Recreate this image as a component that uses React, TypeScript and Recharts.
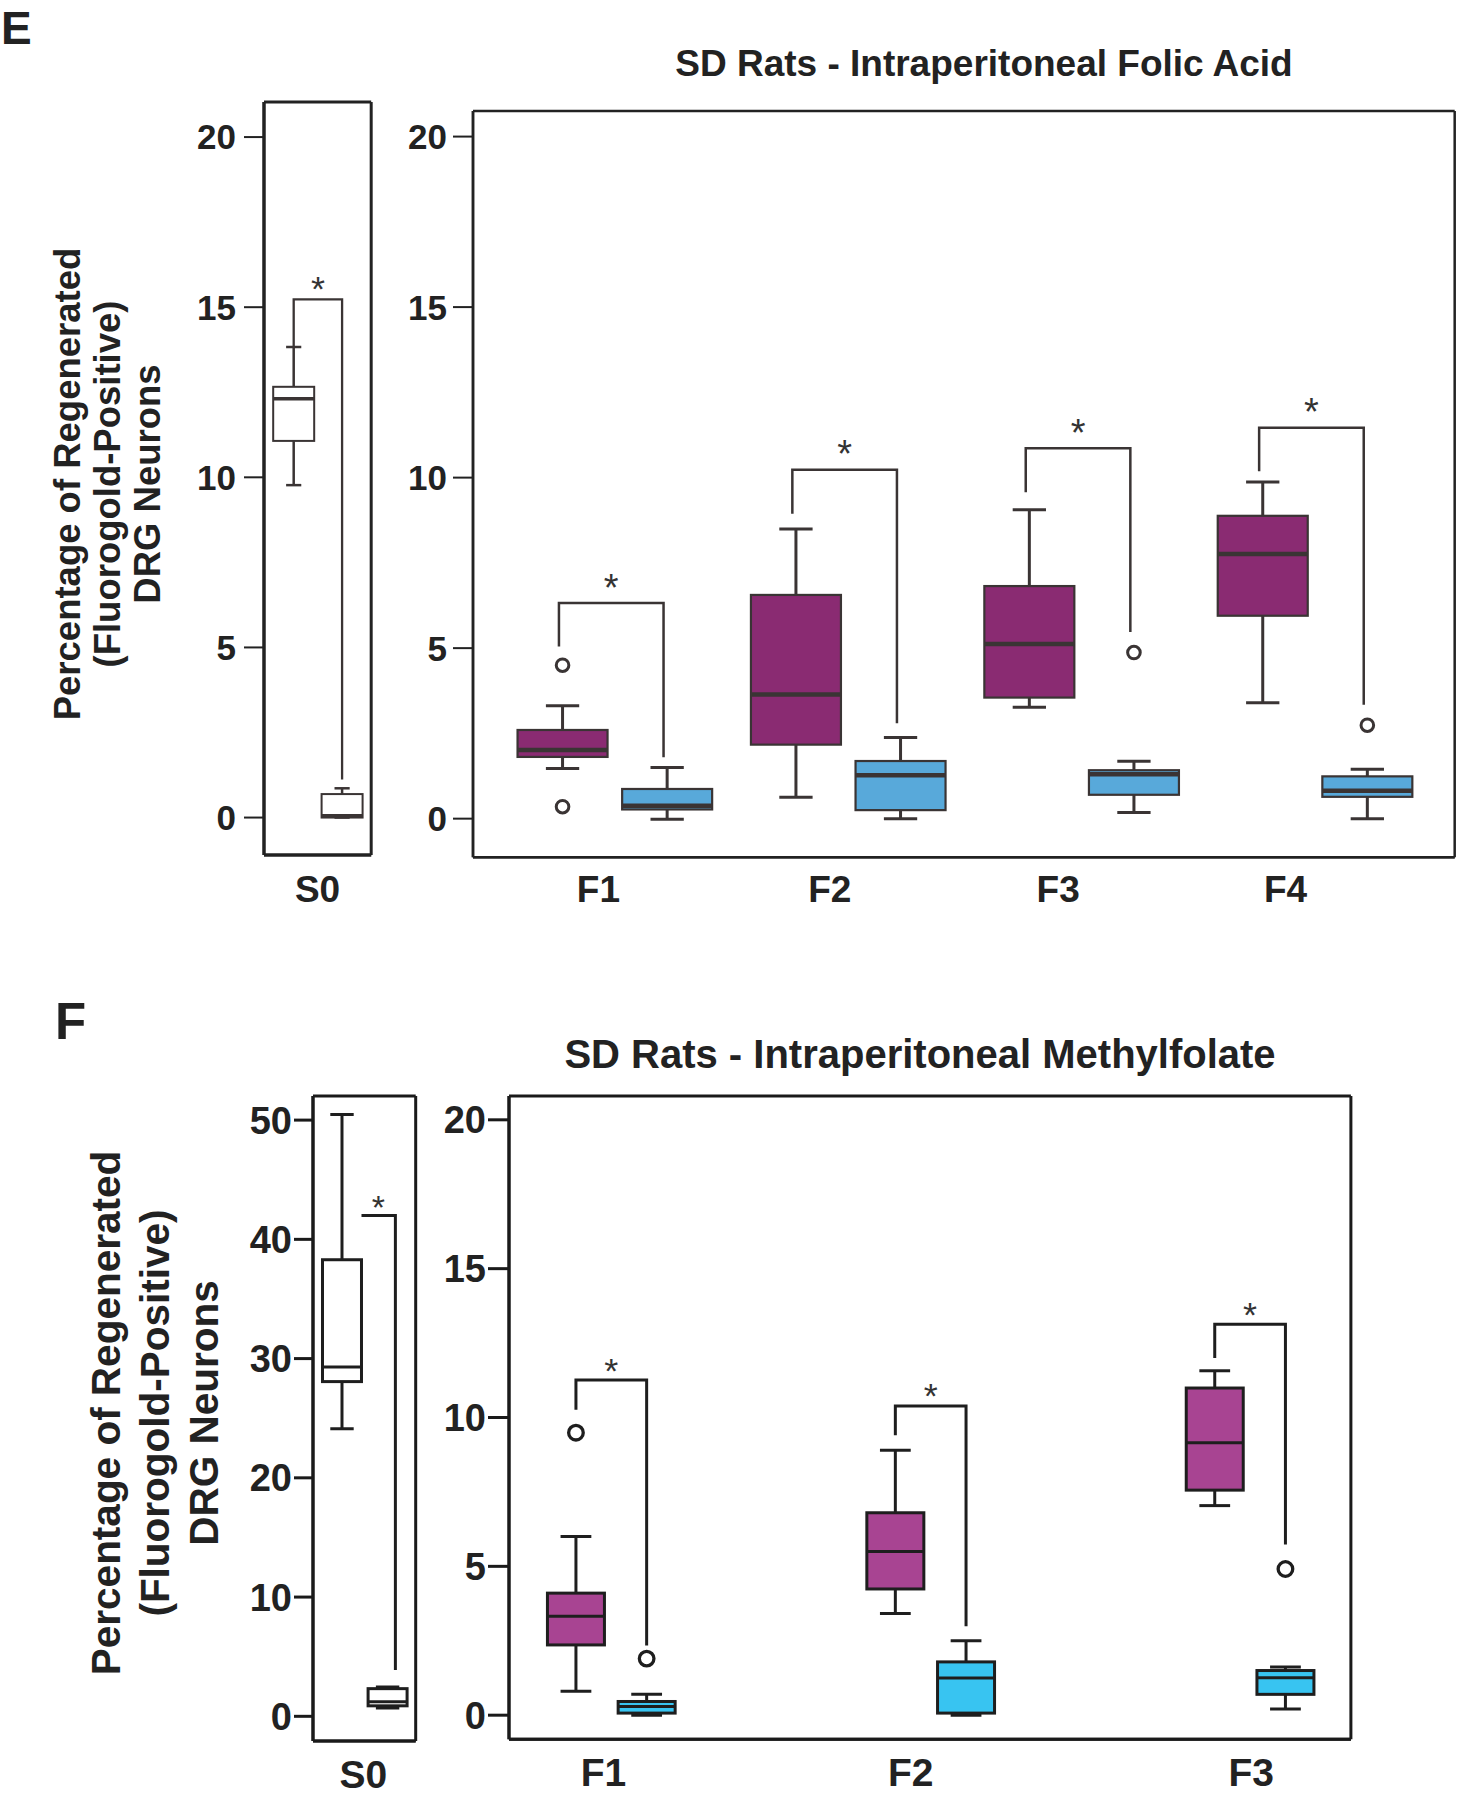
import React from 'react';
import { ComposedChart, Bar, XAxis, YAxis, CartesianGrid } from 'recharts';

// ================= DATA =================
// Panel E – S0 (saline control)
const E_S0_CATS = ['S0'];
const E_S0_A_LOW = [9.77];
const E_S0_A_Q1 = [11.07];
const E_S0_A_MED = [12.31];
const E_S0_A_Q3 = [12.66];
const E_S0_A_HIGH = [13.83];
const E_S0_B_LOW = [0];
const E_S0_B_Q1 = [0.0];
const E_S0_B_MED = [0.05];
const E_S0_B_Q3 = [0.69];
const E_S0_B_HIGH = [0.86];
const E_S0_BR_TOP = [15.23];
const E_S0_BR_LEFT = [13.83];
const E_S0_BR_RIGHT = [1.12];

// Panel E – Intraperitoneal Folic Acid
const E_CATS = ['F1', 'F2', 'F3', 'F4'];
const E_FOLIC_LOW = [1.47, 0.63, 3.27, 3.4];
const E_FOLIC_Q1 = [1.81, 2.17, 3.55, 5.95];
const E_FOLIC_MED = [2.01, 3.64, 5.12, 7.76];
const E_FOLIC_Q3 = [2.6, 6.56, 6.82, 8.88];
const E_FOLIC_HIGH = [3.31, 8.49, 9.06, 9.87];
const E_FOLIC_OUT = [[4.5, 0.35], [], [], []];
const E_CTRL_LOW = [-0.02, 0, 0.18, 0];
const E_CTRL_Q1 = [0.27, 0.25, 0.7, 0.64];
const E_CTRL_MED = [0.38, 1.27, 1.3, 0.82];
const E_CTRL_Q3 = [0.87, 1.69, 1.42, 1.24];
const E_CTRL_HIGH = [1.5, 2.38, 1.68, 1.45];
const E_CTRL_OUT = [[], [], [4.87], [2.74]];
const E_BR_TOP = [6.32, 10.23, 10.86, 11.46];
const E_BR_LEFT = [5.05, 8.94, 9.57, 10.19];
const E_BR_RIGHT = [1.8, 2.8, 5.47, 3.34];

// Panel F – S0
const F_S0_CATS = ['S0'];
const F_S0_A_LOW = [24.12];
const F_S0_A_Q1 = [28.07];
const F_S0_A_MED = [29.3];
const F_S0_A_Q3 = [38.29];
const F_S0_A_HIGH = [50.48];
const F_S0_B_LOW = [0.7];
const F_S0_B_Q1 = [0.88];
const F_S0_B_MED = [1.23];
const F_S0_B_Q3 = [2.32];
const F_S0_B_HIGH = [2.46];
const F_S0_BR_TOP = [42.0];
const F_S0_BR_LEFT = [42.0];
const F_S0_BR_RIGHT = [3.88];

// Panel F – Intraperitoneal Methylfolate
const F_CATS = ['F1', 'F2', 'F3'];
const F_METHYL_LOW = [0.8, 3.42, 7.04];
const F_METHYL_Q1 = [2.36, 4.24, 7.56];
const F_METHYL_MED = [3.32, 5.5, 9.15];
const F_METHYL_Q3 = [4.1, 6.8, 10.99];
const F_METHYL_HIGH = [6.0, 8.9, 11.57];
const F_METHYL_OUT = [[9.49], [], []];
const F_CTRL_LOW = [0, 0, 0.21];
const F_CTRL_Q1 = [0.07, 0.07, 0.7];
const F_CTRL_MED = [0.29, 1.25, 1.26];
const F_CTRL_Q3 = [0.46, 1.79, 1.5];
const F_CTRL_HIGH = [0.7, 2.5, 1.62];
const F_CTRL_OUT = [[1.9], [], [4.91]];
const F_BR_TOP = [11.26, 10.39, 13.13];
const F_BR_LEFT = [10.26, 9.4, 12.0];
const F_BR_RIGHT = [2.34, 2.99, 5.73];

const E_TICKS = [0, 5, 10, 15, 20];
const F_S0_TICKS = [0, 10, 20, 30, 40, 50];
const F_TICKS = [0, 5, 10, 15, 20];

// ================= ROW BUILDERS =================
type Stats = { low: number; q1: number; med: number; q3: number; high: number; out: number[] };

function buildRows(
  cats: string[],
  a: number[][],
  aOut: number[][],
  b: number[][],
  bOut: number[][],
  br: number[][]
) {
  return cats.map((cat, i) => ({
    cat,
    a: { low: a[0][i], q1: a[1][i], med: a[2][i], q3: a[3][i], high: a[4][i], out: aOut[i] || [] },
    b: { low: b[0][i], q1: b[1][i], med: b[2][i], q3: b[3][i], high: b[4][i], out: bOut[i] || [] },
    br: { top: br[0][i], left: br[1][i], right: br[2][i] },
  }));
}

const rowsES0 = buildRows(
  E_S0_CATS,
  [E_S0_A_LOW, E_S0_A_Q1, E_S0_A_MED, E_S0_A_Q3, E_S0_A_HIGH],
  [],
  [E_S0_B_LOW, E_S0_B_Q1, E_S0_B_MED, E_S0_B_Q3, E_S0_B_HIGH],
  [],
  [E_S0_BR_TOP, E_S0_BR_LEFT, E_S0_BR_RIGHT]
);
const rowsE = buildRows(
  E_CATS,
  [E_FOLIC_LOW, E_FOLIC_Q1, E_FOLIC_MED, E_FOLIC_Q3, E_FOLIC_HIGH],
  E_FOLIC_OUT,
  [E_CTRL_LOW, E_CTRL_Q1, E_CTRL_MED, E_CTRL_Q3, E_CTRL_HIGH],
  E_CTRL_OUT,
  [E_BR_TOP, E_BR_LEFT, E_BR_RIGHT]
);
const rowsFS0 = buildRows(
  F_S0_CATS,
  [F_S0_A_LOW, F_S0_A_Q1, F_S0_A_MED, F_S0_A_Q3, F_S0_A_HIGH],
  [],
  [F_S0_B_LOW, F_S0_B_Q1, F_S0_B_MED, F_S0_B_Q3, F_S0_B_HIGH],
  [],
  [F_S0_BR_TOP, F_S0_BR_LEFT, F_S0_BR_RIGHT]
);
const rowsF = buildRows(
  F_CATS,
  [F_METHYL_LOW, F_METHYL_Q1, F_METHYL_MED, F_METHYL_Q3, F_METHYL_HIGH],
  F_METHYL_OUT,
  [F_CTRL_LOW, F_CTRL_Q1, F_CTRL_MED, F_CTRL_Q3, F_CTRL_HIGH],
  F_CTRL_OUT,
  [F_BR_TOP, F_BR_LEFT, F_BR_RIGHT]
);

// ================= STYLES =================
const FONT = '"Liberation Sans", Arial, Helvetica, sans-serif';
const TEXT = '#222222';

type PanelStyle = {
  fillA: string;
  fillB: string;
  stroke: string;
  boxW: number;
  whiskerW: number;
  medW: number;
  capFrac: number;
  outR: number;
  outW: number;
  barGap: number;
  brW: number;
  brLeftDx: number;
  brRightDx: number;
  starSize: number;
  starOffset: number;
};

const styleES0: PanelStyle = {
  fillA: '#ffffff', fillB: '#ffffff', stroke: '#3a3434', boxW: 2, whiskerW: 2.5, medW: 3.5,
  capFrac: 0.37, outR: 6, outW: 2.8, barGap: 7.4, brW: 2.3, brLeftDx: 0, brRightDx: 0,
  starSize: 36, starOffset: 19,
};
const styleE: PanelStyle = {
  fillA: '#8a2b72', fillB: '#58a9da', stroke: '#3a3434', boxW: 2.2, whiskerW: 3, medW: 4.5,
  capFrac: 0.37, outR: 6.3, outW: 3, barGap: 14.6, brW: 2.5, brLeftDx: -0.04, brRightDx: -0.04,
  starSize: 38, starOffset: 24,
};
const styleFS0: PanelStyle = {
  fillA: '#ffffff', fillB: '#ffffff', stroke: '#1e1e1e', boxW: 3, whiskerW: 3, medW: 3,
  capFrac: 0.6, outR: 7, outW: 3.2, barGap: 6.6, brW: 3, brLeftDx: 0.5, brRightDx: 0.2,
  starSize: 34, starOffset: 16,
};
const styleF: PanelStyle = {
  fillA: '#a84492', fillB: '#38c4f1', stroke: '#1e1e1e', boxW: 3, whiskerW: 3, medW: 3,
  capFrac: 0.54, outR: 7.3, outW: 3.3, barGap: 13.7, brW: 3, brLeftDx: 0, brRightDx: 0,
  starSize: 36, starOffset: 18,
};

// ================= BOX SHAPE =================
function renderBox(p: any, which: 'a' | 'b', st: PanelStyle) {
  const { x, y, width, height, payload } = p;
  if (!payload || width == null || height == null) return <g />;
  const s: Stats = payload[which];
  const lo = s.low;
  const hi = s.high;
  const yLo = y + height;
  const yHi = y;
  const Y = (v: number) => yLo + ((yHi - yLo) * (v - lo)) / (hi - lo);
  const cx = x + width / 2;
  const half = (width * st.capFrac) / 2;
  const fill = which === 'a' ? st.fillA : st.fillB;
  const els: any[] = [];
  els.push(<line key="wu" x1={cx} x2={cx} y1={Y(s.high)} y2={Y(s.q3)} stroke={st.stroke} strokeWidth={st.whiskerW} />);
  els.push(<line key="wl" x1={cx} x2={cx} y1={Y(s.q1)} y2={Y(s.low)} stroke={st.stroke} strokeWidth={st.whiskerW} />);
  els.push(<line key="cu" x1={cx - half} x2={cx + half} y1={Y(s.high)} y2={Y(s.high)} stroke={st.stroke} strokeWidth={st.whiskerW} />);
  els.push(<line key="cl" x1={cx - half} x2={cx + half} y1={Y(s.low)} y2={Y(s.low)} stroke={st.stroke} strokeWidth={st.whiskerW} />);
  const yq3 = Y(s.q3);
  const yq1 = Y(s.q1);
  els.push(
    <rect key="box" x={x} y={Math.min(yq3, yq1)} width={width} height={Math.abs(yq1 - yq3)} fill={fill} stroke={st.stroke} strokeWidth={st.boxW} />
  );
  els.push(<line key="med" x1={x} x2={x + width} y1={Y(s.med)} y2={Y(s.med)} stroke={st.stroke} strokeWidth={st.medW} />);
  s.out.forEach((o, i) => {
    els.push(<circle key={'o' + i} cx={cx} cy={Y(o)} r={st.outR} fill="none" stroke={st.stroke} strokeWidth={st.outW} />);
  });
  if (which === 'b') {
    const br = payload.br;
    const cxR = cx + st.brRightDx * width;
    const cxL = cx - width - st.barGap + st.brLeftDx * width;
    const yt = Y(br.top);
    els.push(
      <path
        key="br"
        d={`M${cxL},${Y(br.left)} L${cxL},${yt} L${cxR},${yt} L${cxR},${Y(br.right)}`}
        fill="none"
        stroke={st.stroke}
        strokeWidth={st.brW}
      />
    );
    els.push(
      <text
        key="star"
        x={(cxL + cxR) / 2}
        y={yt - st.starOffset + 0.57 * st.starSize}
        textAnchor="middle"
        fontSize={st.starSize}
        fontFamily={FONT}
        fill="#333"
      >
        *
      </text>
    );
  }
  return <g>{els}</g>;
}

// ================= PANEL =================
type Frame = { x1: number; y1: number; x2: number; y2: number };

function BoxPanel(props: {
  rows: any[];
  frame: Frame;
  domain: [number, number];
  ticks: number[];
  padding: { left: number; right: number };
  barCategoryGap: number;
  st: PanelStyle;
  frameW: number;
  frameColor: string;
  tickSize: number;
  tickW: number;
  tickMargin: number;
  tickFont: number;
  xFont: number;
  xBase: number;
  xDx: number[];
}) {
  const { rows, frame, domain, ticks, padding, barCategoryGap, st } = props;
  const YW = 100;
  const XH = 70;
  const M = 6;
  const w = frame.x2 - frame.x1 + YW + 2 * M;
  const h = frame.y2 - frame.y1 + XH + 2 * M;
  const axisLine = { stroke: props.frameColor, strokeWidth: props.frameW };
  const xTick = (tp: any) => {
    const idx = tp.index ?? 0;
    return (
      <text
        x={tp.x + (props.xDx[idx] || 0)}
        y={tp.y + props.xBase}
        textAnchor="middle"
        fontSize={props.xFont}
        fontWeight="bold"
        fontFamily={FONT}
        fill={TEXT}
      >
        {tp.payload?.value}
      </text>
    );
  };
  const hGen = (args: any) => {
    const o = args.offset || args;
    return [o.top, o.top + o.height];
  };
  const vGen = (args: any) => {
    const o = args.offset || args;
    return [o.left, o.left + o.width];
  };
  return (
    <div style={{ position: 'absolute', left: frame.x1 - YW - M, top: frame.y1 - M, width: w, height: h }}>
      <ComposedChart
        width={w}
        height={h}
        data={rows}
        margin={{ top: M, right: M, bottom: M, left: M }}
        barCategoryGap={barCategoryGap}
        barGap={st.barGap}
      >
        <CartesianGrid
          xAxisId="b"
          yAxisId="l"
          stroke={props.frameColor}
          strokeWidth={props.frameW}
          horizontalCoordinatesGenerator={hGen}
          verticalCoordinatesGenerator={vGen}
          fill="none"
        />
        <XAxis
          xAxisId="b"
          dataKey="cat"
          type="category"
          padding={padding}
          height={XH}
          tickLine={false}
          tickSize={0}
          tickMargin={0}
          axisLine={axisLine}
          tick={xTick}
          interval={0}
        />
        <YAxis
          yAxisId="l"
          type="number"
          domain={domain}
          allowDataOverflow
          ticks={ticks}
          interval={0}
          width={YW}
          tickSize={props.tickSize}
          tickMargin={props.tickMargin}
          tickLine={{ stroke: props.frameColor, strokeWidth: props.tickW }}
          axisLine={axisLine}
          tick={{ fill: TEXT, fontSize: props.tickFont, fontWeight: 'bold', fontFamily: FONT }}
        />
        <Bar
          xAxisId="b"
          yAxisId="l"
          dataKey={(r: any) => [r.a.low, r.a.high]}
          isAnimationActive={false}
          shape={(p: any) => renderBox(p, 'a', st)}
        />
        <Bar
          xAxisId="b"
          yAxisId="l"
          dataKey={(r: any) => [r.b.low, r.b.high]}
          isAnimationActive={false}
          shape={(p: any) => renderBox(p, 'b', st)}
        />
      </ComposedChart>
    </div>
  );
}

// ================= APP =================
export default function App() {
  const eLabel = ['Percentage of Regenerated', '(Fluorogold-Positive)', 'DRG Neurons'];
  const eLabelX = [80, 120, 160];
  const fLabelX = [120, 169, 218];
  return (
    <div
      style={{
        position: 'absolute',
        left: 0,
        top: 0,
        width: 1458,
        height: 1800,
        overflow: 'hidden',
        background: '#ffffff',
        fontFamily: FONT,
      }}
    >
      <svg width={1458} height={1800} style={{ position: 'absolute', left: 0, top: 0 }}>
        <text x={1} y={44} fontSize={46} fontWeight="bold" fontFamily={FONT} fill={TEXT}>E</text>
        <text x={55} y={1039} fontSize={51} fontWeight="bold" fontFamily={FONT} fill={TEXT}>F</text>
        <text x={984} y={76} textAnchor="middle" fontSize={37} fontWeight="bold" fontFamily={FONT} fill={TEXT}>
          SD Rats - Intraperitoneal Folic Acid
        </text>
        <text x={920} y={1068} textAnchor="middle" fontSize={40} fontWeight="bold" fontFamily={FONT} fill={TEXT}>
          SD Rats - Intraperitoneal Methylfolate
        </text>
        {eLabel.map((t, i) => (
          <text
            key={'el' + i}
            x={eLabelX[i]}
            y={484}
            transform={`rotate(-90 ${eLabelX[i]} 484)`}
            textAnchor="middle"
            fontSize={36.5}
            fontWeight="bold"
            fontFamily={FONT}
            fill={TEXT}
          >
            {t}
          </text>
        ))}
        {eLabel.map((t, i) => (
          <text
            key={'fl' + i}
            x={fLabelX[i]}
            y={1413}
            transform={`rotate(-90 ${fLabelX[i]} 1413)`}
            textAnchor="middle"
            fontSize={40.5}
            fontWeight="bold"
            fontFamily={FONT}
            fill={TEXT}
          >
            {t}
          </text>
        ))}
      </svg>

      <BoxPanel
        rows={rowsES0}
        frame={{ x1: 263.5, y1: 101.5, x2: 370.7, y2: 854.5 }}
        domain={[-1.1, 21.03]}
        ticks={E_TICKS}
        padding={{ left: 0, right: 0 }}
        barCategoryGap={9.2}
        st={styleES0}
        frameW={3}
        frameColor="#222"
        tickSize={20}
        tickW={2}
        tickMargin={8}
        tickFont={35}
        xFont={37}
        xBase={47}
        xDx={[0]}
      />
      <BoxPanel
        rows={rowsE}
        frame={{ x1: 472.8, y1: 110.8, x2: 1454.5, y2: 857 }}
        domain={[-1.13, 20.75]}
        ticks={E_TICKS}
        padding={{ left: 24.7, right: 23.4 }}
        barCategoryGap={19.85}
        st={styleE}
        frameW={2.5}
        frameColor="#222"
        tickSize={20}
        tickW={2}
        tickMargin={6}
        tickFont={35}
        xFont={37}
        xBase={44.7}
        xDx={[-16, -18, -23, -29]}
      />
      <BoxPanel
        rows={rowsFS0}
        frame={{ x1: 313.3, y1: 1096.1, x2: 416, y2: 1741 }}
        domain={[-2.06, 52.02]}
        ticks={F_S0_TICKS}
        padding={{ left: 0, right: 0 }}
        barCategoryGap={9.5}
        st={styleFS0}
        frameW={3}
        frameColor="#1a1a1a"
        tickSize={19}
        tickW={3}
        tickMargin={2}
        tickFont={38}
        xFont={39}
        xBase={47}
        xDx={[-1]}
      />
      <BoxPanel
        rows={rowsF}
        frame={{ x1: 508.6, y1: 1095.7, x2: 1350.5, y2: 1739 }}
        domain={[-0.81, 20.8]}
        ticks={F_TICKS}
        padding={{ left: -57.3, right: -59 }}
        barCategoryGap={95.75}
        st={styleF}
        frameW={3}
        frameColor="#1a1a1a"
        tickSize={21}
        tickW={3}
        tickMargin={2}
        tickFont={38}
        xFont={39}
        xBase={47}
        xDx={[-8, -20, 1]}
      />
    </div>
  );
}
